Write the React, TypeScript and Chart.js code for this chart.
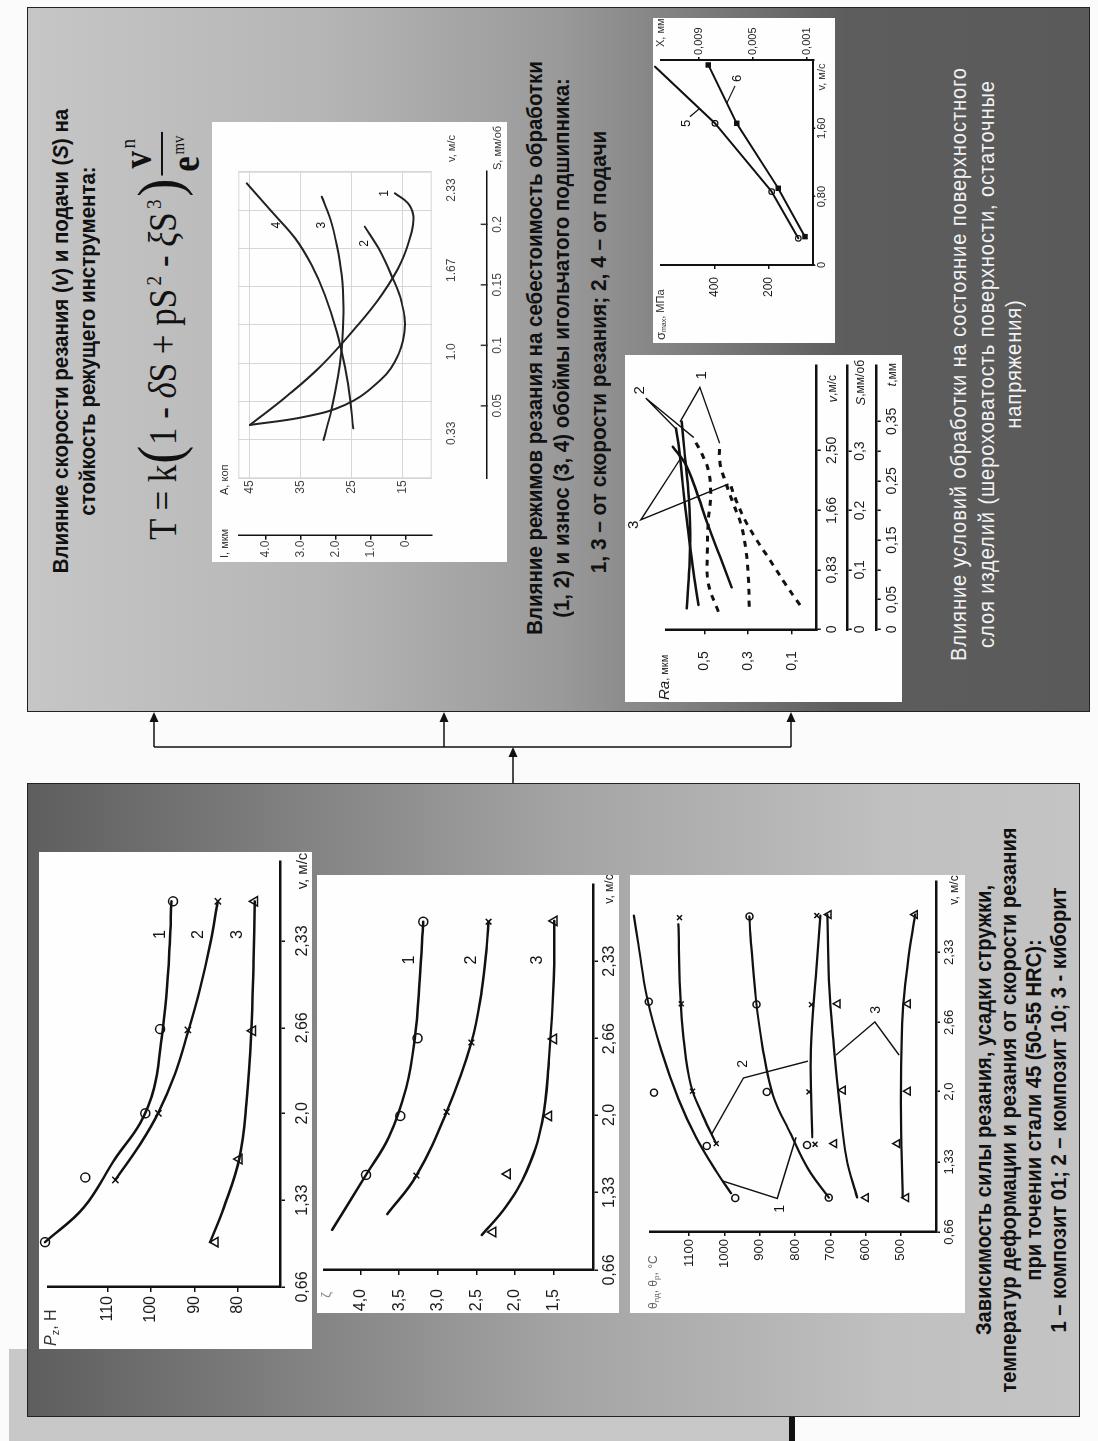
import React, { useEffect, useLayoutEffect, useRef, useState } from "react";
import { Chart, registerables } from "chart.js";

Chart.register(...registerables);

const SANS = '"Liberation Sans", Arial, Helvetica, sans-serif';
const SERIF = '"Liberation Serif", "Times New Roman", serif';
const INK = "#111111";

Chart.defaults.font.family = SANS;
Chart.defaults.color = INK;

// ================= DATA =================
// shared speed axis of the three left-hand charts
const speedTicks = [0.66, 1.33, 2.0, 2.66, 3.33];
const speedTickLabels = ["0,66", "1,33", "2,0", "2,66", "2,33"];

// --- A: cutting force Pz, N ---
const pzTicks = [80, 90, 100, 110];
const pzLine1 = [[1.006, 124.4], [1.276, 115.4], [1.653, 108.2], [1.923, 102.5], [2.193, 99.3], [2.544, 97.7], [2.895, 96.5], [3.3, 95.7], [3.636, 95.3]];
const pzMarks1 = [[1.006, 124.4], [1.505, 115.1], [2.0, 101.3], [2.65, 97.9], [3.636, 94.9]];
const pzLine2 = [[1.486, 108.2], [1.761, 102.5], [2.018, 98.1], [2.301, 94.5], [2.625, 91.5], [2.949, 88.8], [3.3, 86.4], [3.636, 84.6]];
const pzMarks2 = [[1.486, 108.2], [2.0, 98.3], [2.644, 91.5], [3.636, 84.6]];
const pzLine3 = [[1.006, 86.4], [1.276, 83.2], [1.647, 79.7], [2.085, 78.0], [2.625, 76.9], [3.165, 76.4], [3.636, 76.1]];
const pzMarks3 = [[1.006, 85.2], [1.647, 79.7], [2.637, 76.6], [3.636, 76.1]];
const pzCurveLabels = [["1", 3.38, 97.7], ["2", 3.38, 89.0], ["3", 3.38, 80.0]];

// --- B: chip shrinkage zeta ---
const zetaTicks = [1.5, 2.0, 2.5, 3.0, 3.5, 4.0];
const zetaTickLabels = ["1,5", "2,0", "2,5", "3,0", "3,5", "4,0"];
const zetaLine1 = [[1.007, 4.371], [1.482, 3.932], [1.809, 3.634], [2.232, 3.411], [2.656, 3.299], [3.171, 3.233], [3.67, 3.188]];
const zetaMarks1 = [[1.482, 3.932], [1.991, 3.486], [2.663, 3.263], [3.67, 3.188]];
const zetaLine2 = [[1.143, 3.656], [1.476, 3.277], [2.026, 2.885], [2.626, 2.563], [3.08, 2.429], [3.473, 2.362], [3.67, 2.34]];
const zetaMarks2 = [[1.476, 3.277], [2.026, 2.885], [2.626, 2.563], [3.67, 2.34]];
const zetaLine3 = [[0.962, 2.428], [1.205, 2.118], [1.507, 1.851], [1.931, 1.647], [2.475, 1.557], [3.166, 1.494], [3.677, 1.486]];
const zetaMarks3 = [[0.988, 2.284], [1.49, 2.093], [1.991, 1.557], [2.657, 1.494], [3.677, 1.486]];
const zetaCurveLabels = [["1", 3.339, 3.368], ["2", 3.339, 2.565], ["3", 3.339, 1.698]];

// --- C: temperatures, deg C ---
const thetaTicks = [500, 600, 700, 800, 900, 1000, 1100];
const thLineA = [[1.03, 981], [1.23, 1021], [1.565, 1080], [1.93, 1130], [2.398, 1179], [2.9, 1219], [3.4, 1243], [3.68, 1256]];
const thMarksA = [[0.984, 969], [1.481, 1050], [1.99, 1199], [2.858, 1214], [3.68, 1256]];
const thLineB = [[1.504, 1023], [1.765, 1060], [2.064, 1095], [2.498, 1115], [2.965, 1125], [3.598, 1130]];
const thMarksB = [[1.504, 1023], [2.004, 1090], [2.838, 1122], [3.66, 1127]];
const thLineC = [[0.988, 704], [1.264, 763], [1.597, 812], [1.964, 862], [2.431, 892], [2.898, 911], [3.498, 926], [3.672, 929]];
const thMarksC = [[0.988, 704], [1.49, 766], [1.997, 880], [2.832, 909], [3.672, 929]];
const thLineD = [[1.564, 751], [2.4, 755], [3.23, 738], [3.68, 728]];
const thMarksD = [[1.497, 743], [1.997, 760], [2.83, 753], [3.68, 738]];
const thLineE = [[0.99, 624], [1.365, 654], [1.898, 674], [2.398, 689], [3.065, 704], [3.69, 708]];
const thMarksE = [[0.988, 599], [1.504, 689], [2.014, 664], [2.838, 679], [3.69, 704]];
const thLineF = [[0.988, 495], [1.898, 500], [2.731, 495], [3.23, 480], [3.69, 460]];
const thMarksF = [[0.988, 485], [1.504, 510], [2.004, 480], [2.838, 480], [3.69, 460]];
const thLead1 = [[1.148, 1006], [0.98, 850], [1.564, 797]];
const thLead2 = [[1.597, 1035], [2.13, 946], [2.291, 763]];
const thLead3 = [[2.348, 684], [2.665, 574], [2.348, 505]];
const thetaCurveLabels = [["1", 0.881, 842], ["2", 2.264, 946], ["3", 2.78, 569]];

// --- D: cost A (kop) and wear I (um) vs speed v and feed S ---
const dSpeedTicks = [0.33, 1.0, 1.67, 2.33];
const dSpeedTickLabels = ["0.33", "1.0", "1.67", "2.33"];
const dFeedTicks = [0.05, 0.1, 0.15, 0.2];
const dFeedTickLabels = ["0.05", "0.1", "0.15", "0.2"];
const costTicks = [15, 25, 35, 45];
const wearTicks = [0, 1, 2, 3, 4];
const wearTickLabels = ["0", "1.0", "2.0", "3.0", "4.0"];
const gridSteps = [0, 1, 2, 3, 4, 5, 6, 7, 8];
const costBySpeed = [[0.398, 45.0], [0.645, 37.5], [0.891, 30.9], [1.193, 24.4], [1.467, 19.2], [1.741, 15.3], [1.987, 13.3], [2.124, 13.0], [2.221, 14.0], [2.303, 16.6]];
const costByFeed = [[0.0342, 45.0], [0.041, 34.2], [0.0507, 26.4], [0.0672, 20.5], [0.0865, 16.6], [0.1113, 14.7], [0.1361, 15.3], [0.1581, 17.3], [0.1802, 19.8], [0.1981, 22.5]];
const wearBySpeed = [[0.275, 2.35], [0.535, 2.11], [0.809, 1.93], [1.083, 1.81], [1.358, 1.78], [1.631, 1.83], [1.878, 1.97], [2.097, 2.16], [2.275, 2.4]];
const wearByFeed = [[0.0314, 1.5], [0.0562, 1.59], [0.081, 1.73], [0.1113, 1.97], [0.1416, 2.31], [0.1664, 2.69], [0.1885, 3.16], [0.2105, 3.83], [0.2339, 4.54]];
const wearCurveLabels = [["1", 2.303, 18.5], ["2", 1.89, 22.5], ["3", 2.04, 30.9], ["4", 2.04, 39.8]];

// --- E: roughness Ra (um) ---
const raTicks = [0.1, 0.3, 0.5];
const raTickLabels = ["0,1", "0,3", "0,5"];
const raSpeedTicks = [0, 0.83, 1.66, 2.5];
const raSpeedTickLabels = ["0", "0,83", "1,66", "2,50"];
const raFeedTicks = [0, 0.1, 0.2, 0.3];
const raFeedTickLabels = ["0", "0,1", "0,2", "0,3"];
const raDepthTicks = [0, 0.05, 0.1, 0.15, 0.2, 0.25, 0.3, 0.35];
const raDepthTickLabels = ["0", "0,05", "", "0,15", "", "0,25", "", "0,35"];
const raSolid1 = [[0.293, 0.58], [0.874, 0.568], [1.48, 0.565], [2.039, 0.576], [2.504, 0.591], [2.9, 0.603]];
const raSolid2 = [[0.339, 0.527], [0.874, 0.553], [1.48, 0.578], [2.039, 0.599], [2.504, 0.614], [2.807, 0.629]];
const raSolid3 = [[0.586, 0.375], [1.014, 0.428], [1.48, 0.486], [1.945, 0.538], [2.318, 0.588], [2.551, 0.644]];
const raDash1 = [[0.245, 0.436], [0.642, 0.482], [1.061, 0.486], [1.503, 0.482], [1.899, 0.471], [2.225, 0.482], [2.458, 0.512], [2.668, 0.55]];
const raDash2 = [[0.315, 0.295], [0.734, 0.299], [1.107, 0.31], [1.48, 0.334], [1.76, 0.368], [2.039, 0.401], [2.318, 0.428], [2.598, 0.431]];
const raDash3 = [[0.339, 0.063], [0.642, 0.132], [0.967, 0.2], [1.247, 0.261], [1.526, 0.314], [1.782, 0.352], [2.039, 0.383]];
const raLead1 = [[2.9, 0.61], [3.38, 0.52], [2.6, 0.43]];
const raLead2 = [[2.8, 0.629], [3.23, 0.767], [2.68, 0.548]];
const raLead3 = [[2.38, 0.61], [1.53, 0.79], [2.03, 0.39]];
const raCurveLabels = [["1", 3.55, 0.512], ["2", 3.34, 0.795], ["3", 1.46, 0.82]];

// --- F: residual stress sigma (MPa) and depth X (mm) ---
const sigSpeedTicks = [0, 0.8, 1.6];
const sigSpeedTickLabels = ["0", "0,80", "1,60"];
const sigTicks = [200, 400];
const depthTicks = [0.001, 0.005, 0.009];
const depthTickLabels = ["0,001", "0,005", "0,009"];
const stressBySpeed = [[0.312, 87.4], [0.859, 187.4], [1.659, 400], [2.322, 625]];
const depthBySpeed = [[0.332, 0.00115], [0.898, 0.00313], [1.659, 0.00621], [2.342, 0.00831]];
const sigLead5 = [[1.737, 493.8], [1.835, 456.3]];
const sigLead6 = [[2.096, 325], [1.893, 356]];
const sigmaCurveLabels = [["5", 1.659, 506], ["6", 2.186, 316]];

// ================= HELPERS =================
const xy = (a: number[][]) => a.map(([x, y]) => ({ x, y }));

function curve(data: number[][], o: any = {}) {
  return { data: xy(data), borderColor: INK, borderWidth: 2.5, pointRadius: 0, tension: 0.4, fill: false, clip: false, borderCapStyle: "round", borderJoinStyle: "round", ...o };
}
function marks(data: number[][], style: string, o: any = {}) {
  return { data: xy(data), showLine: false, pointStyle: style, pointRadius: 4, pointBorderColor: INK, pointBackgroundColor: "#ffffff", pointBorderWidth: 1.5, clip: false, ...o };
}
function poly(data: number[][], o: any = {}) {
  return { data: xy(data), borderColor: INK, borderWidth: 1.4, pointRadius: 0, tension: 0, fill: false, clip: false, ...o };
}

function axis(p: any) {
  const horiz = p.pos === "bottom" || p.pos === "top";
  return {
    type: "linear",
    position: p.pos,
    weight: p.weight || 0,
    min: p.min,
    max: p.max,
    afterBuildTicks: (s: any) => { s.ticks = p.ticks.map((v: number) => ({ value: v })); },
    afterFit: (s: any) => {
      if (horiz) s.height = p.size; else s.width = p.size;
      s.paddingTop = 0; s.paddingBottom = 0; s.paddingLeft = 0; s.paddingRight = 0;
    },
    ticks: {
      display: !!p.labels,
      autoSkip: false,
      maxRotation: 0,
      minRotation: 0,
      padding: p.pad ?? 3,
      color: p.color || "#1a1a1a",
      font: { family: SANS, size: p.fs || 14 },
      callback: (_v: any, i: number) => (p.labels ? p.labels[i] : ""),
    },
    grid: {
      display: true,
      drawOnChartArea: !!p.gridColor,
      drawTicks: !!p.tickLen,
      tickLength: p.tickLen || 0,
      color: p.gridColor || INK,
      tickColor: INK,
      lineWidth: p.gridColor ? 1 : 1.5,
      tickWidth: 1.5,
    },
    border: { display: p.border !== false, color: INK, width: p.bw || 2.5 },
  };
}

function rich(ctx: CanvasRenderingContext2D, parts: any[], x: number, y: number, align = "left", color = "#222") {
  ctx.save();
  ctx.fillStyle = color;
  ctx.textBaseline = "middle";
  ctx.textAlign = "left";
  let w = 0;
  for (const p of parts) { ctx.font = p.f; w += ctx.measureText(p.t).width; }
  let cx = align === "center" ? x - w / 2 : align === "right" ? x - w : x;
  for (const p of parts) { ctx.font = p.f; ctx.fillText(p.t, cx, y + (p.dy || 0)); cx += ctx.measureText(p.t).width; }
  ctx.restore();
}

function labelsAt(c: any, ctx: CanvasRenderingContext2D, list: any[], xId: string, yId: string, font: string) {
  ctx.save();
  ctx.font = font;
  ctx.fillStyle = INK;
  ctx.textAlign = "center";
  ctx.textBaseline = "middle";
  for (const [s, v, y] of list) ctx.fillText(s, c.scales[xId].getPixelForValue(v), c.scales[yId].getPixelForValue(y));
  ctx.restore();
}

function cfg(datasets: any[], scales: any, padding: any, draw?: any, under?: any) {
  return {
    type: "line",
    data: { datasets },
    options: {
      responsive: false,
      maintainAspectRatio: false,
      animation: false,
      events: [],
      layout: { padding },
      plugins: { legend: { display: false }, tooltip: { enabled: false }, title: { display: false } },
      scales,
    },
    plugins: [
      {
        id: "overlay",
        beforeDatasetsDraw(c: any) { if (under) { c.ctx.save(); under(c, c.ctx); c.ctx.restore(); } },
        afterDraw(c: any) { if (draw) { c.ctx.save(); draw(c, c.ctx); c.ctx.restore(); } },
      },
    ],
  };
}

// ================= CHART CONFIGS =================
const pzConfig = () =>
  cfg(
    [
      curve(pzLine1), marks(pzMarks1, "circle", { pointRadius: 4.5 }),
      curve(pzLine2), marks(pzMarks2, "crossRot", { pointRadius: 4.5 }),
      curve(pzLine3), marks(pzMarks3, "triangle", { pointRadius: 5.5 }),
    ],
    {
      x: axis({ pos: "bottom", min: 0.66, max: 3.947, ticks: speedTicks, labels: speedTickLabels, size: 32, fs: 16, tickLen: 5, pad: 8 }),
      y: axis({ pos: "left", min: 70.3, max: 123.7, ticks: pzTicks, labels: pzTicks.map(String), size: 62, fs: 16, tickLen: 5, pad: 4 }),
    },
    { left: 0, top: 9, right: 9, bottom: 0 },
    (c: any, ctx: CanvasRenderingContext2D) => {
      rich(ctx, [{ t: "P", f: `italic 16px ${SANS}` }, { t: "z", f: `11px ${SANS}`, dy: 4 }, { t: ", Н", f: `16px ${SANS}` }], 3, 13, "left", "#333");
      rich(ctx, [{ t: "v, м/с", f: `15px ${SANS}` }], 478, 263.5, "center");
      labelsAt(c, ctx, pzCurveLabels, "x", "y", `16px ${SANS}`);
    }
  );

const zetaConfig = () =>
  cfg(
    [
      curve(zetaLine1), marks(zetaMarks1, "circle", { pointRadius: 4.5 }),
      curve(zetaLine2), marks(zetaMarks2, "crossRot", { pointRadius: 4 }),
      curve(zetaLine3), marks(zetaMarks3, "triangle", { pointRadius: 5.5 }),
    ],
    {
      x: axis({ pos: "bottom", min: 0.66, max: 3.996, ticks: speedTicks, labels: speedTickLabels, size: 26, fs: 16, tickLen: 5, pad: 2 }),
      y: axis({ pos: "left", min: 0.984, max: 4.477, ticks: zetaTicks, labels: zetaTickLabels, size: 43, fs: 16, tickLen: 5, pad: 14 }),
    },
    { left: 0, top: 2, right: 9, bottom: 0 },
    (c: any, ctx: CanvasRenderingContext2D) => {
      rich(ctx, [{ t: "ζ", f: `13px ${SANS}` }], 18, 9, "center", "#888");
      rich(ctx, [{ t: "v, м/с", f: `12px ${SANS}` }], 424, 293, "center");
      labelsAt(c, ctx, zetaCurveLabels, "x", "y", `16px ${SANS}`);
    }
  );

const thetaConfig = () =>
  cfg(
    [
      curve(thLineA, { borderWidth: 2.2 }), marks(thMarksA, "circle", { pointRadius: 3.5 }),
      curve(thLineB, { borderWidth: 2.2 }), marks(thMarksB, "crossRot", { pointRadius: 3.5 }),
      curve(thLineC, { borderWidth: 2.2 }), marks(thMarksC, "circle", { pointRadius: 3.5 }),
      curve(thLineD, { borderWidth: 2.2 }), marks(thMarksD, "crossRot", { pointRadius: 3.5 }),
      curve(thLineE, { borderWidth: 2.2 }), marks(thMarksE, "triangle", { pointRadius: 4.5 }),
      curve(thLineF, { borderWidth: 2.2 }), marks(thMarksF, "triangle", { pointRadius: 4.5 }),
      poly(thLead1), poly(thLead2), poly(thLead3),
    ],
    {
      x: axis({ pos: "bottom", min: 0.66, max: 4.01, ticks: speedTicks, labels: speedTickLabels, size: 29, fs: 13, tickLen: 4, pad: 2 }),
      y: axis({ pos: "left", min: 400.6, max: 1210.4, ticks: thetaTicks, labels: thetaTicks.map(String), size: 81, fs: 13, tickLen: 4, pad: 3 }),
    },
    { left: 0, top: 20, right: 5, bottom: 0 },
    (c: any, ctx: CanvasRenderingContext2D) => {
      rich(ctx, [
        { t: "θ", f: `12px ${SANS}` }, { t: "пд", f: `8px ${SANS}`, dy: 3 },
        { t: ", θ", f: `12px ${SANS}` }, { t: "р", f: `8px ${SANS}`, dy: 3 },
        { t: ", °C", f: `12px ${SANS}` },
      ], 4, 24, "left", "#666");
      rich(ctx, [{ t: "v, м/с", f: `12px ${SANS}` }], 423, 324.6, "center");
      labelsAt(c, ctx, thetaCurveLabels, "x", "y", `14px ${SANS}`);
    }
  );

const wearConfig = () =>
  cfg(
    [
      curve(costBySpeed, { borderWidth: 2, borderColor: "#222", xAxisID: "x", yAxisID: "y" }),
      curve(costByFeed, { borderWidth: 2, borderColor: "#222", xAxisID: "xs", yAxisID: "y" }),
      curve(wearBySpeed, { borderWidth: 2, borderColor: "#222", xAxisID: "x", yAxisID: "yi" }),
      curve(wearByFeed, { borderWidth: 2, borderColor: "#222", xAxisID: "xs", yAxisID: "yi" }),
    ],
    {
      xg: axis({ pos: "bottom", weight: 0, min: 0, max: 8, ticks: gridSteps, labels: null, size: 0, border: false, gridColor: "#d6d6d6" }),
      x: axis({ pos: "bottom", weight: 1, min: -0.04, max: 2.4805, ticks: dSpeedTicks, labels: dSpeedTickLabels, size: 55, fs: 12, pad: 13, border: false, color: "#444" }),
      xs: axis({ pos: "bottom", weight: 2, min: -0.0099, max: 0.2435, ticks: dFeedTicks, labels: dFeedTickLabels, size: 20.3, fs: 12, pad: 4, bw: 1.5, color: "#444" }),
      y: axis({ pos: "left", weight: 0, min: 9.37, max: 47.29, ticks: costTicks, labels: costTicks.map(String), size: 57.4, fs: 12, pad: 2, border: false, gridColor: "#d6d6d6", color: "#444" }),
      yi: axis({ pos: "left", weight: 1, min: -0.743, max: 4.783, ticks: wearTicks, labels: wearTickLabels, size: 26.3, fs: 12, tickLen: 4, pad: 1, bw: 1.5, color: "#444" }),
    },
    { left: 0, top: 26.3, right: 49.7, bottom: 0 },
    (c: any, ctx: CanvasRenderingContext2D) => {
      const s = c.scales.xs;
      ctx.strokeStyle = "#333";
      ctx.lineWidth = 1.5;
      for (const v of dFeedTicks) {
        const px = s.getPixelForValue(v);
        ctx.beginPath();
        ctx.moveTo(px, s.top + 1);
        ctx.lineTo(px, s.top - 6);
        ctx.stroke();
      }
      const f = `11px ${SANS}`;
      rich(ctx, [{ t: "I, мкм", f }], 4, 13, "left", "#333");
      rich(ctx, [{ t: "A, коп", f }], 67, 13, "left", "#333");
      rich(ctx, [{ t: "v, м/с", f }], 413.5, 240, "center", "#333");
      rich(ctx, [{ t: "S, мм/об", f }], 392, 286, "left", "#333");
      labelsAt(c, ctx, wearCurveLabels, "x", "y", `12px ${SANS}`);
    },
    (c: any, ctx: CanvasRenderingContext2D) => {
      const a = c.chartArea;
      ctx.strokeStyle = "#d6d6d6";
      ctx.lineWidth = 1;
      ctx.strokeRect(a.left + 0.5, a.top + 0.5, a.right - a.left - 1, a.bottom - a.top - 1);
    }
  );

const raConfig = () =>
  cfg(
    [
      curve(raSolid1), curve(raSolid2), curve(raSolid3),
      curve(raDash1, { borderDash: [6, 6], borderWidth: 3, borderCapStyle: "butt" }),
      curve(raDash2, { borderDash: [6, 6], borderWidth: 3, borderCapStyle: "butt" }),
      curve(raDash3, { borderDash: [6, 6], borderWidth: 3, borderCapStyle: "butt" }),
      poly(raLead1), poly(raLead2), poly(raLead3),
    ],
    {
      x: axis({ pos: "bottom", weight: 0, min: 0, max: 3.693, ticks: raSpeedTicks, labels: raSpeedTickLabels, size: 31, fs: 14, tickLen: 4, pad: 3 }),
      xs: axis({ pos: "bottom", weight: 1, min: 0, max: 0.4449, ticks: raFeedTicks, labels: raFeedTickLabels, size: 29, fs: 14, tickLen: 4, pad: 0.5 }),
      xt: axis({ pos: "bottom", weight: 2, min: 0, max: 0.4449, ticks: raDepthTicks, labels: raDepthTickLabels, size: 25.3, fs: 14, tickLen: 4, pad: 3 }),
      y: axis({ pos: "left", min: -0.0132, max: 0.6717, ticks: raTicks, labels: raTickLabels, size: 72.7, fs: 14, tickLen: 5, pad: 17 }),
    },
    { left: 0, top: 41.7, right: 10, bottom: 0 },
    (c: any, ctx: CanvasRenderingContext2D) => {
      rich(ctx, [{ t: "Ra", f: `italic 15px ${SANS}` }, { t: ", мкм", f: `11px ${SANS}` }], 2, 40);
      rich(ctx, [{ t: "v", f: `italic 13px ${SANS}` }, { t: ",м/с", f: `12px ${SANS}` }], 327, 208, "right");
      rich(ctx, [{ t: "S", f: `italic 13px ${SANS}` }, { t: ",мм/об", f: `12px ${SANS}` }], 342, 236, "right");
      rich(ctx, [{ t: "t", f: `italic 13px ${SANS}` }, { t: ",мм", f: `12px ${SANS}` }], 339, 267.5, "right");
      labelsAt(c, ctx, raCurveLabels, "x", "y", `15px ${SANS}`);
    }
  );

const sigmaConfig = () =>
  cfg(
    [
      curve(stressBySpeed, { tension: 0, borderWidth: 2, yAxisID: "y" }),
      marks(stressBySpeed, "circle", { pointRadius: 2.8, pointBorderWidth: 1.2, yAxisID: "y" }),
      curve(depthBySpeed, { tension: 0, borderWidth: 2, yAxisID: "yx" }),
      marks(depthBySpeed, "rect", { pointRadius: 2.8, pointBackgroundColor: INK, yAxisID: "yx" }),
      poly(sigLead5, { yAxisID: "y", borderWidth: 1.2 }),
      poly(sigLead6, { yAxisID: "y", borderWidth: 1.2 }),
    ],
    {
      x: axis({ pos: "bottom", min: 0, max: 2.4, ticks: sigSpeedTicks, labels: sigSpeedTickLabels, size: 21.7, fs: 11, tickLen: 2, pad: 0, bw: 2 }),
      y: axis({ pos: "left", min: 31.1, max: 602.6, ticks: sigTicks, labels: sigTicks.map(String), size: 78, fs: 12, tickLen: 4, pad: 8, bw: 2 }),
      yx: axis({ pos: "right", min: 0.000533, max: 0.011815, ticks: depthTicks, labels: depthTickLabels, size: 42, fs: 11, tickLen: 3, pad: 2, bw: 2 }),
    },
    { left: 0, top: 8, right: 0, bottom: 0 },
    (c: any, ctx: CanvasRenderingContext2D) => {
      rich(ctx, [{ t: "σ", f: `13px ${SANS}` }, { t: "max", f: `7px ${SANS}`, dy: 3 }, { t: ", МПа", f: `11px ${SANS}` }], 3, 8, "left", "#333");
      rich(ctx, [{ t: "X, мм", f: `11px ${SANS}` }], 296, 8, "left", "#333");
      rich(ctx, [{ t: "v, м/с", f: `11px ${SANS}` }], 266, 169, "center", "#333");
      labelsAt(c, ctx, sigmaCurveLabels, "x", "y", `13px ${SANS}`);
    }
  );

// ================= COMPONENTS =================
function ChartBox({ x, y, w, h, config }: any) {
  const ref = useRef<HTMLCanvasElement>(null);
  useEffect(() => {
    const chart = new Chart(ref.current as HTMLCanvasElement, config() as any);
    return () => chart.destroy();
  }, []);
  return (
    <canvas
      ref={ref}
      width={w}
      height={h}
      style={{ position: "absolute", left: x, top: y, width: w, height: h, background: "#fefefe", display: "block" }}
    />
  );
}

// Block of centred lines, horizontally condensed so that the reference line gets the measured width.
function FitLines({ cx, top, lh, font, color, lines, refLine = 0, target, spacing = 0 }: any) {
  const ref = useRef<HTMLSpanElement>(null);
  const [k, setK] = useState(0.8);
  useLayoutEffect(() => {
    if (ref.current && ref.current.offsetWidth > 0) setK(target / ref.current.offsetWidth);
  }, []);
  return (
    <div
      style={{
        position: "absolute", left: cx - 500, width: 1000, top, textAlign: "center", font, color,
        letterSpacing: spacing, whiteSpace: "nowrap", transform: `scaleX(${k})`, transformOrigin: "50% 50%",
      }}
    >
      {lines.map((l: any, i: number) => (
        <div key={i} style={{ height: lh, lineHeight: `${lh}px` }}>
          <span ref={i === refLine ? ref : undefined}>{l}</span>
        </div>
      ))}
    </div>
  );
}

// A centred inline group squeezed horizontally to a target width.
function FitBox({ cx, cy, target, style, children }: any) {
  const ref = useRef<HTMLDivElement>(null);
  const [k, setK] = useState(1);
  useLayoutEffect(() => {
    if (ref.current && ref.current.offsetWidth > 0) setK(target / ref.current.offsetWidth);
  }, []);
  return (
    <div style={{ position: "absolute", left: cx, top: cy, transform: `translate(-50%, -50%) scaleX(${k})`, whiteSpace: "nowrap" }}>
      <div ref={ref} style={{ display: "inline-flex", alignItems: "center", ...style }}>
        {children}
      </div>
    </div>
  );
}

function Arrows() {
  const head = (x: number, y: number) => `${x},${y} ${x - 10},${y - 4.5} ${x - 10},${y + 4.5}`;
  const ys = [154, 444, 791];
  return (
    <svg width={1441} height={1098} style={{ position: "absolute", left: 0, top: 0 }}>
      <line x1={694} y1={154} x2={694} y2={791} stroke="#111" strokeWidth={1.5} />
      <line x1={658} y1={513} x2={686} y2={513} stroke="#111" strokeWidth={1.5} />
      <polygon points={head(694, 513)} fill="#111" />
      {ys.map((y) => (
        <g key={y}>
          <line x1={694} y1={y} x2={721} y2={y} stroke="#111" strokeWidth={1.5} />
          <polygon points={head(729, y)} fill="#111" />
        </g>
      ))}
    </svg>
  );
}

const sup: any = { fontSize: 22, verticalAlign: "super", lineHeight: 0, marginLeft: 4 };

export default function App() {
  const bold = `bold 22px ${SANS}`;
  return (
    <div style={{ position: "absolute", left: 0, top: 0, width: 1098, height: 1441, overflow: "hidden", background: "#fbfbfb" }}>
      <div
        style={{
          position: "absolute",
          left: 0,
          top: 0,
          width: 1441,
          height: 1098,
          transformOrigin: "0 0",
          transform: "translate(0px, 1441px) rotate(-90deg)",
        }}
      >
        {/* slide decoration */}
        <div style={{ position: "absolute", left: 0, top: 9, width: 92, height: 781, background: "#c8c8c8" }} />
        <div style={{ position: "absolute", left: 0, top: 789, width: 30, height: 6, background: "#111" }} />

        {/* lower panel (left in the slide) */}
        <div
          style={{
            position: "absolute", left: 24, top: 27, width: 634, height: 1053, boxSizing: "border-box",
            border: "1.5px solid #222",
            background: "linear-gradient(to bottom, #5e5e5e 0%, #a3a3a3 50%, #c0c0c0 82%, #c4c4c4 100%)",
          }}
        />
        {/* upper panel (right in the slide) */}
        <div
          style={{
            position: "absolute", left: 729, top: 27, width: 705, height: 1063, boxSizing: "border-box",
            border: "1.5px solid #222",
            background: "linear-gradient(to bottom, #c6c6c6 0%, #b5b5b5 28%, #9a9a9a 50%, #5d5d5d 77%, #5a5a5a 100%)",
          }}
        />

        <Arrows />

        {/* charts of the left panel */}
        <ChartBox x={92} y={39} w={497} h={273} config={pzConfig} />
        <ChartBox x={128} y={317} w={438} h={302} config={zetaConfig} />
        <ChartBox x={128} y={630} w={438} h={335} config={thetaConfig} />

        {/* charts of the right panel */}
        <ChartBox x={879} y={212} w={440} h={295} config={wearConfig} />
        <ChartBox x={739} y={625} w={347} h={277} config={raConfig} />
        <ChartBox x={1098} y={653} w={325} h={182} config={sigmaConfig} />

        {/* texts */}
        <FitLines
          cx={1099.5} top={46.5} lh={27} font={bold} color="#111" target={464}
          lines={[
            <>Влияние скорости резания (<i>v</i>) и подачи (<i>S</i>) на</>,
            "стойкость режущего инструмента:",
          ]}
        />

        <FitBox cx={1105} cy={162} target={408} style={{ fontFamily: SERIF, fontSize: 40, color: "#111" }}>
          <span>T = k</span>
          <span style={{ fontSize: 62, lineHeight: 1, margin: "0 1px", position: "relative", top: -3 }}>(</span>
          <span>
            1 - <i>δ</i>S + pS<sup style={sup}>2</sup> - <i>ξ</i>S<sup style={sup}>3</sup>
          </span>
          <span style={{ fontSize: 62, lineHeight: 1, margin: "0 4px 0 3px", position: "relative", top: -3 }}>)</span>
          <span style={{ display: "inline-flex", flexDirection: "column", alignItems: "center", lineHeight: 1 }}>
            <span style={{ padding: "0 4px 3px" }}>
              <b>v</b>
              <span style={{ fontSize: 22, position: "relative", top: -16, marginLeft: 3 }}>n</span>
            </span>
            <span style={{ borderTop: "2px solid #111", padding: "3px 4px 0" }}>
              <b>e</b>
              <span style={{ fontSize: 17, position: "relative", top: -15, marginLeft: 2 }}>mv</span>
            </span>
          </span>
        </FitBox>

        <FitLines
          cx={1093} top={520.5} lh={27.5} font={bold} color="#111" target={574}
          lines={["Влияние режимов резания на себестоимость обработки", "(1, 2) и износ (3, 4) обоймы игольчатого подшипника:"]}
        />
        <FitLines
          cx={1088.5} top={584.6} lh={27.5} font={bold} color="#111" target={443}
          lines={["1, 3 – от скорости резания; 2, 4 – от подачи"]}
        />

        <FitLines
          cx={1077} top={945.25} lh={27.5} font={`22px ${SANS}`} color="#f2f2f2" target={594} spacing={1}
          lines={[
            "Влияние условий обработки на состояние поверхностного",
            "слоя изделий (шероховатость поверхности, остаточные",
            "напряжения)",
          ]}
        />

        <FitLines
          cx={331} top={970.5} lh={25} font={bold} color="#111" target={565} refLine={1}
          lines={[
            "Зависимость силы резания, усадки стружки,",
            "температур деформации и резания от скорости резания",
            "при точении стали 45 (50-55 HRC):",
            "1 – композит 01; 2 – композит 10; 3 - киборит",
          ]}
        />
      </div>
    </div>
  );
}
